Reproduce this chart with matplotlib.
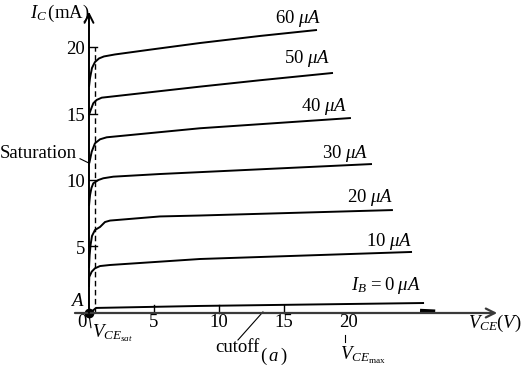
import matplotlib
matplotlib.use("Agg")
import matplotlib.pyplot as plt

plt.rcParams['font.family'] = ['Liberation Serif', 'DejaVu Serif']
plt.rcParams['mathtext.fontset'] = 'custom'
plt.rcParams['mathtext.rm'] = 'Liberation Serif'
plt.rcParams['mathtext.it'] = 'Liberation Serif:italic'

# output characteristic curves, V_CE in volts, I_C in mA
ib_labels = ['60', '50', '40', '30', '20', '10']
vce_60 = [0, 0.08, 0.23, 0.46, 0.77, 1.15, 2.0, 4.7, 8.54, 13.15, 17.54]
ic_60 = [17.0, 17.67, 18.42, 18.87, 19.14, 19.29, 19.44, 19.8, 20.3, 20.83, 21.28]
vce_50 = [0, 0.13, 0.33, 0.59, 0.98, 1.62, 8.54, 13.15, 18.77]
ic_50 = [14.89, 15.26, 15.77, 16.02, 16.19, 16.26, 17.02, 17.5, 18.05]
vce_40 = [0.02, 0.21, 0.46, 0.85, 1.36, 8.54, 20.15]
ic_40 = [11.26, 12.13, 12.76, 13.06, 13.21, 13.89, 14.66]
vce_30 = [0, 0.08, 0.19, 0.33, 0.72, 1.1, 1.87, 5.46, 21.77]
ic_30 = [8.05, 8.87, 9.4, 9.75, 10.0, 10.13, 10.25, 10.45, 11.2]
vce_20 = [0, 0.05, 0.12, 0.23, 0.46, 0.85, 1.23, 1.62, 5.46, 8.54, 23.38]
ic_20 = [3.38, 4.36, 5.11, 5.79, 6.24, 6.47, 6.84, 6.95, 7.26, 7.33, 7.74]
vce_10 = [0, 0.02, 0.21, 0.46, 0.85, 1.62, 8.54, 24.85]
ic_10 = [1.95, 2.71, 3.11, 3.36, 3.53, 3.61, 4.06, 4.59]
vce_0 = [0.08, 0.54, 8.54, 25.7]
ic_0 = [0, 0.38, 0.53, 0.75]

label_x = [16.08, 16.77, 18.08, 19.69, 21.62, 23.08]
label_y = [22.18, 19.17, 15.49, 12.03, 8.65, 5.41]

x_ticks = [5, 10, 15]
y_ticks = [5, 10, 15, 20]
vce_sat = 0.46

fig = plt.figure(figsize=(5.22, 3.75), dpi=100)
ax = fig.add_axes([0, 0, 1, 1])
ax.set_xlim(-6.846, 33.31)
ax.set_ylim(-4.662, 23.534)
ax.axis('off')

fs = 13.5
k = 'black'

curves = [(vce_60, ic_60), (vce_50, ic_50), (vce_40, ic_40),
          (vce_30, ic_30), (vce_20, ic_20), (vce_10, ic_10)]
for (vx, iy), lab, lx, ly in zip(curves, ib_labels, label_x, label_y):
    ax.plot(vx, iy, color=k, lw=1.4, solid_capstyle='butt')
    ax.text(lx, ly, lab + r' $\mu A$', fontsize=fs, ha='center', va='center')
ax.plot(vce_0, ic_0, color=k, lw=1.4)
ax.plot([25.6, 26.5], [0.18, 0.14], color=k, lw=2.5)
ax.text(22.85, 2.03, r'$I_B\,=0\ \mu A$', fontsize=fs, ha='center', va='center')

# axes with arrows
ax.annotate('', xy=(31.4, 0), xytext=(-1.08, 0),
            arrowprops=dict(arrowstyle='->', color='#3a3a3a', lw=1.6,
                            mutation_scale=16, shrinkA=0, shrinkB=0))
ax.annotate('', xy=(0, 22.65), xytext=(0, 0),
            arrowprops=dict(arrowstyle='->', color=k, lw=1.4,
                            mutation_scale=16, shrinkA=0, shrinkB=0))

for t in x_ticks:
    ax.plot([t, t], [0, 0.6], color=k, lw=1)
    ax.text(t, -0.75, str(t), fontsize=fs, ha='center', va='center')
ax.text(20, -0.75, '20', fontsize=fs, ha='center', va='center')
for t in y_ticks:
    ax.plot([0, 0.6], [t, t], color=k, lw=1)
    ax.text(-0.3, t - 0.2, str(t), fontsize=fs, ha='right', va='center')

# saturation boundary
ax.plot([vce_sat, vce_sat], [0, 20], color=k, lw=1, ls=(0, (4, 2.5)))
ax.plot([0], [0], 'o', color=k, ms=6)
ax.plot([0, 0.15], [-0.1, -1.1], color=k, lw=0.8)

ax.text(-4.54, 22.56, r'$I_C\,$(mA)', fontsize=fs, ha='left', va='center')
ax.text(-0.92, 0.9, r'$A$', fontsize=fs, ha='center', va='center')
ax.text(-0.58, -0.71, '0', fontsize=fs, ha='center', va='center')
ax.text(-6.85, 12.03, 'Saturation', fontsize=fs, ha='left', va='center')
ax.plot([-0.69, 0.02], [11.6, 11.26], color=k, lw=0.8)
ax.text(0.23, -1.5, r'$V_{CE_{sat}}$', fontsize=fs, ha='left', va='center')
ax.text(9.69, -2.63, 'cutoff', fontsize=fs, ha='left', va='center')
ax.plot([11.46, 13.38], [-2.03, 0.08], color=k, lw=0.8)
ax.text(14.19, -3.3, r'$(\,a\,)$', fontsize=fs, ha='center', va='center')
ax.plot([19.7, 19.7], [-1.65, -2.2], color=k, lw=0.8)
ax.text(19.3, -3.2, r'$V_{CE_{\max}}$', fontsize=fs, ha='left', va='center')
ax.text(29.15, -0.75, r'$V_{CE}(V)$', fontsize=fs, ha='left', va='center')

fig.savefig('out.png', dpi=100)
